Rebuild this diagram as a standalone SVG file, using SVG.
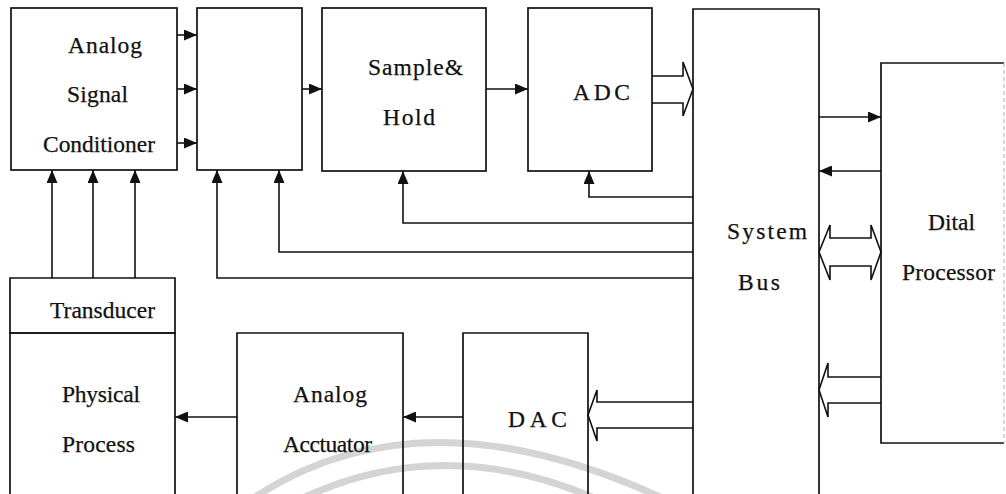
<svg xmlns="http://www.w3.org/2000/svg" width="1006" height="494" viewBox="0 0 1006 494">
<style>
.box{fill:none;stroke:#111;stroke-width:1.7}
.ln{fill:none;stroke:#111;stroke-width:1.6}
.hollow{fill:none;stroke:#111;stroke-width:1.6;stroke-linejoin:miter}
.lbl{font-family:"Liberation Serif","Times New Roman",serif;font-size:23.5px;fill:#111;stroke:#111;stroke-width:0.25}
.wm{fill:none;stroke:#d4d4d4;stroke-width:7}
</style>
<defs>
<marker id="ah" viewBox="0 0 13 11" refX="13" refY="5.5" markerWidth="13" markerHeight="11" markerUnits="userSpaceOnUse" orient="auto">
<path d="M0,0 L13,5.5 L0,11 Z" fill="#111"/>
</marker>
</defs>
<rect width="1006" height="494" fill="#fff"/>
<g id="watermark">
<path class="wm" d="M255,497 Q422,388 660,497"/>
<path class="wm" d="M305,497 Q442,434 592,497"/>
</g>
<g id="analog-signal-conditioner">
<rect class="box" x="11" y="8" width="166" height="162"/>
<text class="lbl" x="68" y="53" textLength="74" lengthAdjust="spacing">Analog</text>
<text class="lbl" x="67" y="102" textLength="61" lengthAdjust="spacing">Signal</text>
<text class="lbl" x="43" y="152" textLength="112" lengthAdjust="spacingAndGlyphs">Conditioner</text>
</g>
<g id="multiplexer">
<rect class="box" x="197" y="8" width="105" height="162"/>
</g>
<g id="sample-hold">
<rect class="box" x="322" y="8" width="164" height="163"/>
<text class="lbl" x="368" y="75" textLength="95" lengthAdjust="spacing">Sample&amp;</text>
<text class="lbl" x="383" y="125" textLength="52" lengthAdjust="spacing">Hold</text>
</g>
<g id="adc">
<rect class="box" x="528" y="8" width="124" height="163"/>
<text class="lbl" x="573" y="100" textLength="57" lengthAdjust="spacing">ADC</text>
</g>
<g id="system-bus">
<path class="box" d="M693,500 V9 H819 V500"/>
<text class="lbl" x="727" y="239" textLength="80" lengthAdjust="spacing">System</text>
<text class="lbl" x="738" y="290" textLength="42" lengthAdjust="spacing">Bus</text>
</g>
<g id="digital-processor">
<path class="box" d="M1004,63 H881 V443 H1004"/>
<path d="M1004,63 V443" fill="none" stroke="#bbb" stroke-width="1.2" stroke-dasharray="4 3"/>
<text class="lbl" x="928" y="230" textLength="47" lengthAdjust="spacing">Dital</text>
<text class="lbl" x="902" y="280" textLength="93" lengthAdjust="spacing">Processor</text>
</g>
<g id="transducer">
<path class="box" d="M10,333 V278 H175 V333 Z"/>
<text class="lbl" x="50" y="318" textLength="105" lengthAdjust="spacing">Transducer</text>
</g>
<g id="physical-process">
<path class="box" d="M10,500 V333 H175 V500"/>
<text class="lbl" x="62" y="402" textLength="78" lengthAdjust="spacing">Physical</text>
<text class="lbl" x="62" y="452" textLength="73" lengthAdjust="spacing">Process</text>
</g>
<g id="analog-actuator">
<path class="box" d="M237,500 V333 H403 V500"/>
<text class="lbl" x="293" y="402" textLength="74" lengthAdjust="spacing">Analog</text>
<text class="lbl" x="283" y="452" textLength="89" lengthAdjust="spacing">Acctuator</text>
</g>
<g id="dac">
<path class="box" d="M463,500 V333 H588 V500"/>
<text class="lbl" x="508" y="427" textLength="59" lengthAdjust="spacing">DAC</text>
</g>
<g id="connectors">
<line class="ln" x1="177" y1="35" x2="197" y2="35" marker-end="url(#ah)"/>
<line class="ln" x1="177" y1="89" x2="197" y2="89" marker-end="url(#ah)"/>
<line class="ln" x1="177" y1="143" x2="197" y2="143" marker-end="url(#ah)"/>
<line class="ln" x1="302" y1="89" x2="322" y2="89" marker-end="url(#ah)"/>
<line class="ln" x1="486" y1="89" x2="528" y2="89" marker-end="url(#ah)"/>
<path class="hollow" d="M652,76 H683 V62 L693,89 L683,116 V103 H652"/>
<line class="ln" x1="819" y1="117" x2="881" y2="117" marker-end="url(#ah)"/>
<line class="ln" x1="881" y1="171" x2="819" y2="171" marker-end="url(#ah)"/>
<path class="hollow" d="M830,238 H871 V225 L881,252 L871,280 V266 H830 V280 L819,252 L830,225 Z"/>
<path class="hollow" d="M881,377 H828 V363 L819,390 L828,417 V403 H881"/>
<path class="hollow" d="M693,402 H597 V390 L588,415 L597,441 V428 H693"/>
<line class="ln" x1="463" y1="417" x2="403" y2="417" marker-end="url(#ah)"/>
<line class="ln" x1="237" y1="417" x2="175" y2="417" marker-end="url(#ah)"/>
<line class="ln" x1="52" y1="278" x2="52" y2="170" marker-end="url(#ah)"/>
<line class="ln" x1="93" y1="278" x2="93" y2="170" marker-end="url(#ah)"/>
<line class="ln" x1="135" y1="278" x2="135" y2="170" marker-end="url(#ah)"/>
<path class="ln" d="M693,278 H217 V170" marker-end="url(#ah)"/>
<path class="ln" d="M693,252 H279 V170" marker-end="url(#ah)"/>
<path class="ln" d="M693,223 H403 V171" marker-end="url(#ah)"/>
<path class="ln" d="M693,197 H589 V171" marker-end="url(#ah)"/>
</g>
</svg>
